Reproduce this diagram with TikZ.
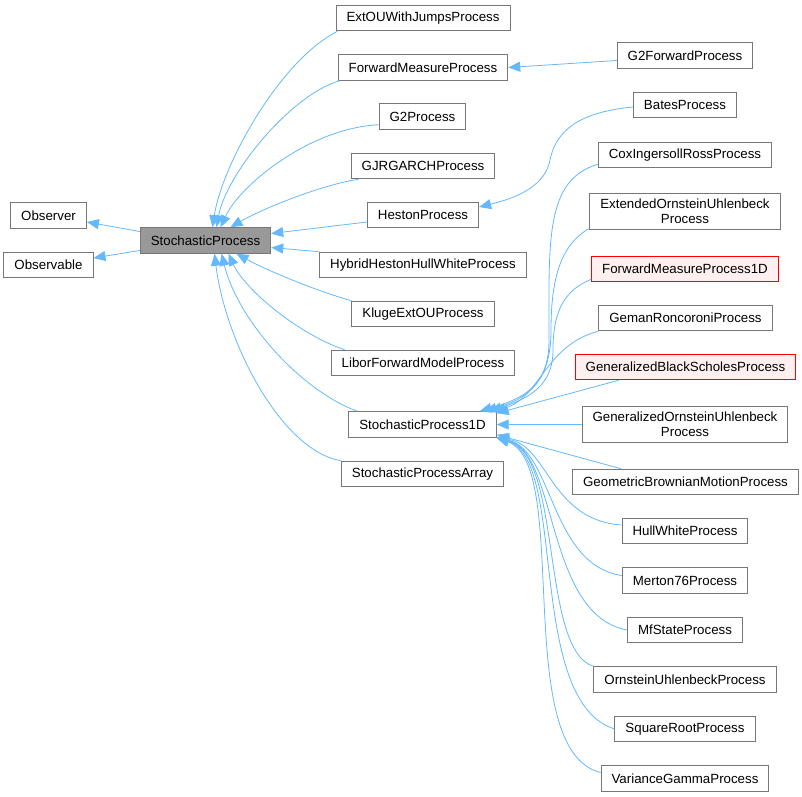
\documentclass[tikz,border=0pt]{standalone}
\usepackage{fontspec}
\setmainfont{Liberation Sans}
\usetikzlibrary{arrows.meta}
\definecolor{edgeblue}{HTML}{63B8FF}
\definecolor{boxline}{HTML}{777777}
\definecolor{hilite}{HTML}{999999}
\definecolor{warnfill}{HTML}{FFF0F0}

\begin{document}
\begin{tikzpicture}[x=1pt, y=-1pt,
  font=\fontsize{13.3}{15}\selectfont,
  cls/.style={draw=boxline, fill=white, line width=1pt, inner xsep=10.5pt,
    inner ysep=6pt, minimum height=25.5pt, align=center},
  base/.style={cls, fill=hilite},
  undoc/.style={cls, draw=red, fill=warnfill},
  inherit/.style={{Triangle[length=12pt,width=10pt]}-, draw=edgeblue, line width=0.8pt}
]
  \useasboundingbox (0,0) rectangle (802,796);

  % left: the two interfaces and the base class
  \node[cls] (observer) at (48.5,215.5) {Observer};
  \node[cls] (observable) at (48.5,265) {Observable};
  \node[base] (sp) at (205.5,240.5) {StochasticProcess};

  % middle column: direct subclasses
  \node[cls] (extou) at (423,18) {ExtOUWithJumpsProcess};
  \node[cls] (fmp) at (423,67.5) {ForwardMeasureProcess};
  \node[cls] (g2) at (422.5,116.5) {G2Process};
  \node[cls] (gjr) at (423,166) {GJRGARCHProcess};
  \node[cls] (heston) at (423,215) {HestonProcess};
  \node[cls] (hybrid) at (423,265) {HybridHestonHullWhiteProcess};
  \node[cls] (kluge) at (423,314) {KlugeExtOUProcess};
  \node[cls] (libor) at (423,363) {LiborForwardModelProcess};
  \node[cls] (sp1d) at (422.5,424.5) {StochasticProcess1D};
  \node[cls] (array) at (422.5,474) {StochasticProcessArray};

  % right column
  \node[cls] (g2fwd) at (685,55.5) {G2ForwardProcess};
  \node[cls] (bates) at (685,105) {BatesProcess};
  \node[cls] (cir) at (685,155) {CoxIngersollRossProcess};
  \node[cls] (extoua) at (685,211.5) {ExtendedOrnsteinUhlenbeck\\Process};
  \node[undoc] (fmp1d) at (685,269) {ForwardMeasureProcess1D};
  \node[cls] (geman) at (685.5,318) {GemanRoncoroniProcess};
  \node[undoc] (gbs) at (685.5,367) {GeneralizedBlackScholesProcess};
  \node[cls] (gou) at (685,424.5) {GeneralizedOrnsteinUhlenbeck\\Process};
  \node[cls] (gbm) at (685.5,482) {GeometricBrownianMotionProcess};
  \node[cls] (hw) at (685,531) {HullWhiteProcess};
  \node[cls] (merton) at (685,580.5) {Merton76Process};
  \node[cls] (mfs) at (685,630) {MfStateProcess};
  \node[cls] (ou) at (685,679.5) {OrnsteinUhlenbeckProcess};
  \node[cls] (sqr) at (685,729) {SquareRootProcess};
  \node[cls] (vg) at (685,778.5) {VarianceGammaProcess};

  % inheritance arrows point at the base class
  \draw[inherit] ([yshift=-6.5pt]observer.east) -- ([yshift=9pt]sp.west);
  \draw[inherit] ([yshift=7pt]observable.east) -- ([yshift=-10pt]sp.west);

  \draw[inherit] ([xshift=7pt]sp.north) .. controls (222,165) and (280,60) .. ([xshift=2pt]extou.south west);
  \draw[inherit] ([xshift=11pt]sp.north) .. controls (226,175) and (290,95) .. ([xshift=2pt]fmp.south west);
  \draw[inherit] ([xshift=15pt]sp.north) .. controls (240,185) and (310,128) .. ([yshift=5pt]g2.south west);
  \draw[inherit] ([xshift=25pt]sp.north) .. controls (260,210) and (320,185) .. ([xshift=8pt]gjr.south west);
  \draw[inherit] ([yshift=7pt]sp.east) -- ([yshift=-7pt]heston.west);
  \draw[inherit] ([yshift=-7pt]sp.east) -- (hybrid.north west);
  \draw[inherit] ([xshift=31pt]sp.south) .. controls (270,272) and (320,292) .. (kluge.north west);
  \draw[inherit] ([xshift=23pt]sp.south) .. controls (245,290) and (300,335) .. ([xshift=14pt]libor.north west);
  \draw[inherit] ([xshift=16pt]sp.south) .. controls (238,320) and (300,390) .. ([xshift=9pt]sp1d.north west);
  \draw[inherit] ([xshift=9pt]sp.south) .. controls (225,340) and (280,450) .. (array.north west);

  \draw[inherit] (fmp.east) -- ([yshift=-5pt]g2fwd.west);
  \draw[inherit] ([yshift=8pt]heston.east) .. controls (520,197) and (545,185) .. (550,160)
    .. controls (556,130) and (580,112) .. ([yshift=-2pt]bates.west);

  % subclasses of StochasticProcess1D
  \draw[inherit] ([xshift=-17pt]sp1d.north east) .. controls (525,398) and (549,385) .. (549,340)
    .. controls (549,240) and (545,180) .. ([yshift=4pt]cir.south west);
  \draw[inherit] ([xshift=-12pt]sp1d.north east) .. controls (530,398) and (551,380) .. (551,330)
    .. controls (551,280) and (560,245) .. ([yshift=2pt]extoua.south west);
  \draw[inherit] ([xshift=-7pt]sp1d.north east) .. controls (530,398) and (553,385) .. (553,350)
    .. controls (553,310) and (565,290) .. ([yshift=3pt]fmp1d.south west);
  \draw[inherit] ([xshift=-3pt]sp1d.north east) .. controls (540,398) and (545,345) .. (geman.south west);
  \draw[inherit] ([yshift=-2pt]sp1d.north east) -- ([xshift=44pt]gbs.south west);
  \draw[inherit] (sp1d.east) -- (gou.west);
  \draw[inherit] ([yshift=3pt]sp1d.south east) -- ([xshift=49pt]gbm.north west);
  \draw[inherit] (sp1d.south east) .. controls (548,445) and (550,520) .. ([yshift=6pt]hw.west);
  \draw[inherit] (sp1d.south east) .. controls (553,450) and (550,565) .. ([yshift=5pt]merton.west);
  \draw[inherit] (sp1d.south east) .. controls (558,452) and (545,615) .. (mfs.west);
  \draw[inherit] (sp1d.south east) .. controls (563,455) and (540,650) .. (ou.north west);
  \draw[inherit] (sp1d.south east) .. controls (568,460) and (525,700) .. (sqr.west);
  \draw[inherit] (sp1d.south east) .. controls (572,465) and (510,750) .. ([yshift=6pt]vg.west);
\end{tikzpicture}
\end{document}
